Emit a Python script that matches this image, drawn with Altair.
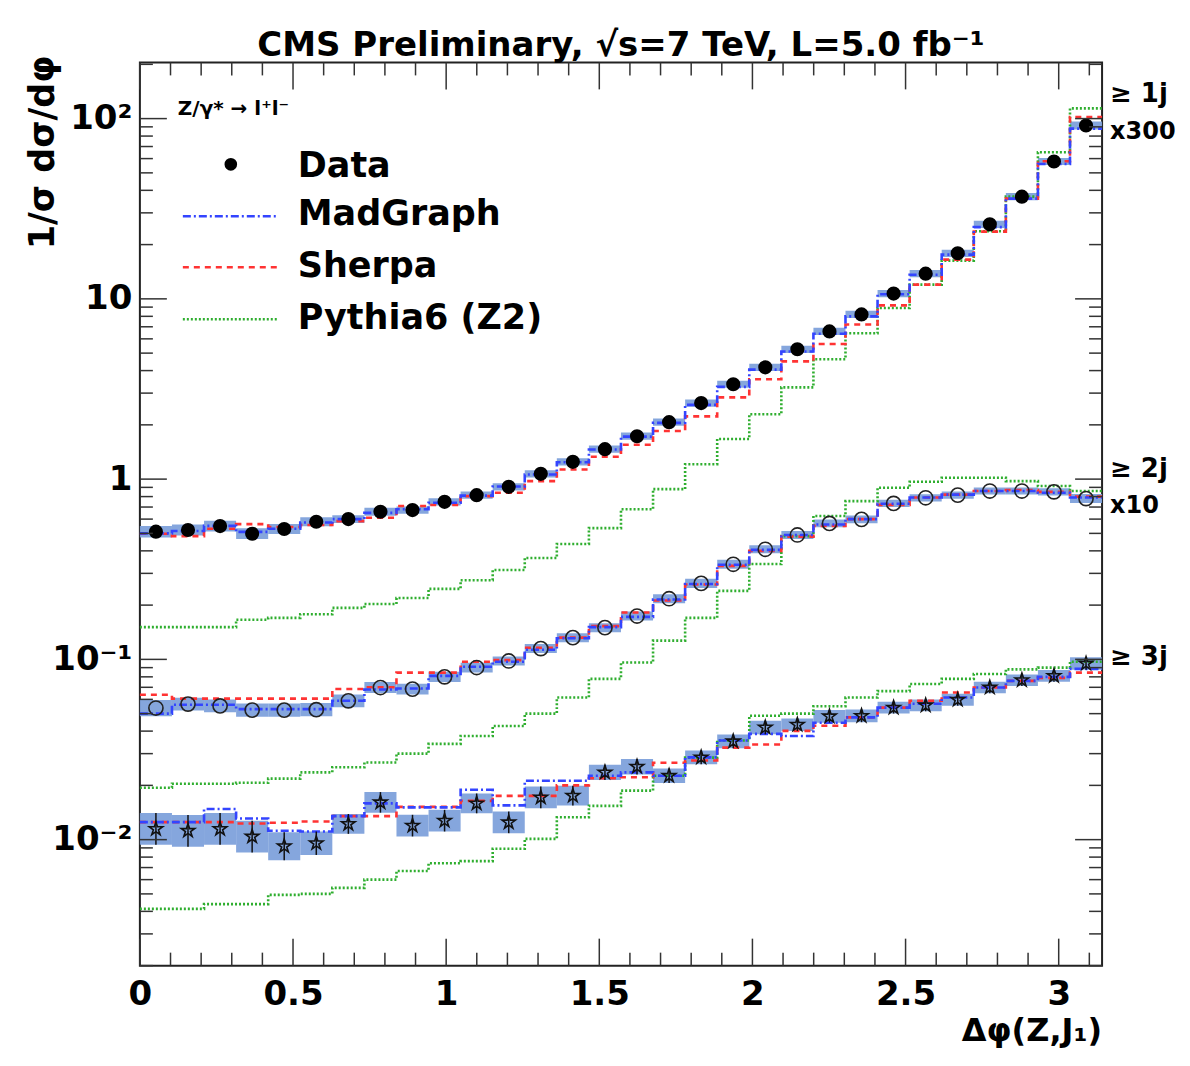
import altair as alt
import pandas as pd
import numpy as np

# ---------------- data ----------------
NBINS = 30
PHI_MAX = np.pi
edges = np.linspace(0, PHI_MAX, NBINS + 1)
centers = 0.5 * (edges[:-1] + edges[1:])

# >= 1 jet (x300)
data_1j = [0.511, 0.522, 0.549, 0.498, 0.529, 0.58, 0.60, 0.659, 0.673, 0.748,
           0.815, 0.906, 1.07, 1.247, 1.466, 1.73, 2.07, 2.64, 3.36, 4.17,
           5.25, 6.6, 8.2, 10.7, 13.8, 17.9, 25.9, 36.9, 57.8, 91.5]
err_1j = [0.032, 0.030, 0.030, 0.030, 0.028, 0.025, 0.022, 0.022, 0.020, 0.020,
          0.020, 0.020, 0.020, 0.020, 0.020, 0.020, 0.020, 0.020, 0.020, 0.020,
          0.020, 0.020, 0.020, 0.020, 0.020, 0.020, 0.020, 0.020, 0.020, 0.022]
mg_1j = [0.50, 0.515, 0.55, 0.51, 0.53, 0.575, 0.60, 0.65, 0.68, 0.74,
         0.81, 0.91, 1.06, 1.24, 1.46, 1.72, 2.05, 2.58, 3.25, 4.05,
         5.1, 6.4, 8.0, 10.6, 13.6, 17.6, 25.0, 36.0, 56.0, 88.0]
sh_1j = [0.498, 0.483, 0.53, 0.563, 0.542, 0.556, 0.585, 0.61, 0.71, 0.718,
         0.805, 0.84, 0.975, 1.13, 1.33, 1.55, 1.85, 2.23, 2.84, 3.58,
         4.5, 5.62, 7.2, 9.2, 12.0, 16.5, 23.6, 36.0, 58.0, 102.0]
py_1j = [0.151, 0.151, 0.151, 0.166, 0.17, 0.178, 0.193, 0.203, 0.219, 0.246,
         0.275, 0.313, 0.365, 0.437, 0.535, 0.68, 0.88, 1.21, 1.67, 2.29,
         3.23, 4.62, 6.44, 8.9, 12.0, 16.3, 23.7, 36.9, 65.0, 114.0]

# >= 2 jets (x10)
data_2j = [0.0537, 0.0565, 0.0552, 0.0523, 0.0523, 0.0526, 0.0589, 0.0698, 0.0684, 0.080,
           0.0901, 0.098, 0.1148, 0.132, 0.150, 0.174, 0.217, 0.264, 0.337, 0.408,
           0.49, 0.568, 0.598, 0.733, 0.788, 0.815, 0.859, 0.859, 0.85, 0.78]
err_2j = [0.045, 0.035, 0.035, 0.037, 0.037, 0.037, 0.035, 0.030, 0.030, 0.028,
          0.027, 0.025, 0.025, 0.025, 0.025, 0.025, 0.025, 0.025, 0.025, 0.022,
          0.022, 0.022, 0.022, 0.020, 0.020, 0.020, 0.020, 0.020, 0.020, 0.025]
mg_2j = [0.050, 0.056, 0.056, 0.053, 0.053, 0.053, 0.059, 0.068, 0.069, 0.081,
         0.091, 0.097, 0.113, 0.131, 0.151, 0.172, 0.215, 0.262, 0.335, 0.405,
         0.49, 0.56, 0.60, 0.73, 0.79, 0.82, 0.86, 0.86, 0.84, 0.79]
sh_2j = [0.0636, 0.0606, 0.0606, 0.0606, 0.0606, 0.0606, 0.0685, 0.070, 0.0844, 0.0844,
         0.097, 0.099, 0.116, 0.132, 0.153, 0.182, 0.212, 0.26, 0.33, 0.40,
         0.48, 0.55, 0.60, 0.72, 0.79, 0.82, 0.86, 0.87, 0.85, 0.80]
py_2j = [0.0194, 0.0204, 0.0204, 0.0207, 0.0218, 0.0236, 0.0252, 0.0268, 0.030, 0.034,
         0.0376, 0.0427, 0.050, 0.0614, 0.078, 0.096, 0.127, 0.170, 0.24, 0.338,
         0.483, 0.624, 0.755, 0.895, 0.966, 1.017, 1.017, 0.975, 0.915, 0.86]

# >= 3 jets
data_3j = [0.01146, 0.0112, 0.01146, 0.0104, 0.00919, 0.00955, 0.01222, 0.0161, 0.01196, 0.01274,
           0.01589, 0.01247, 0.01715, 0.01753, 0.0236, 0.0254, 0.0226, 0.0286, 0.0351, 0.0419,
           0.0434, 0.0483, 0.0486, 0.054, 0.0556, 0.0597, 0.0698, 0.0767, 0.081, 0.0948]
err_3j = [0.088, 0.088, 0.088, 0.088, 0.077, 0.065, 0.055, 0.057, 0.060, 0.060,
          0.055, 0.060, 0.060, 0.055, 0.042, 0.043, 0.040, 0.038, 0.038, 0.038,
          0.035, 0.035, 0.035, 0.033, 0.033, 0.033, 0.032, 0.032, 0.032, 0.035]
mg_3j = [0.0125, 0.0125, 0.0148, 0.0131, 0.0112, 0.0111, 0.0135, 0.0159, 0.0151, 0.0151,
         0.0189, 0.0155, 0.0212, 0.0212, 0.0226, 0.0236, 0.0226, 0.0286, 0.0355, 0.0386,
         0.0376, 0.0445, 0.0477, 0.054, 0.0567, 0.0614, 0.0698, 0.076, 0.080, 0.0886]
sh_3j = [0.0125, 0.0125, 0.0125, 0.0123, 0.0124, 0.0126, 0.0135, 0.0135, 0.0152, 0.0152,
         0.0164, 0.0175, 0.0175, 0.0200, 0.0219, 0.0222, 0.0267, 0.0275, 0.0324, 0.0337,
         0.0401, 0.0428, 0.0477, 0.054, 0.059, 0.0655, 0.0698, 0.076, 0.079, 0.0844]
py_3j = [0.00413, 0.00413, 0.00439, 0.00439, 0.00494, 0.0050, 0.0054, 0.0060, 0.0067, 0.0074,
         0.0076, 0.0089, 0.0101, 0.0133, 0.0154, 0.0187, 0.0226, 0.0285, 0.0355, 0.0487,
         0.050, 0.055, 0.0614, 0.0667, 0.073, 0.078, 0.083, 0.088, 0.090, 0.097]

x_major = [0, 0.5, 1, 1.5, 2, 2.5, 3]
y_major = [0.01, 0.1, 1, 10, 100]
legend_labels = ["Data", "MadGraph", "Sherpa", "Pythia6 (Z2)"]
jet_labels = ["≥ 1j", "x300", "≥ 2j", "x10", "≥ 3j"]

# ---------------- tables ----------------
groups = {
    "1j": (data_1j, err_1j, mg_1j, sh_1j, py_1j),
    "2j": (data_2j, err_2j, mg_2j, sh_2j, py_2j),
    "3j": (data_3j, err_3j, mg_3j, sh_3j, py_3j),
}

pts_rows, step_rows = [], []
for g, (d, e, mg, sh, py) in groups.items():
    for i in range(NBINS):
        f = 10 ** e[i]
        pts_rows.append(dict(grp=g, x=float(centers[i]), lo_x=float(edges[i]), hi_x=float(edges[i + 1]),
                             y=d[i], ylo=d[i] / f, yhi=d[i] * f))
    for gen, vals in (("MadGraph", mg), ("Sherpa", sh), ("Pythia", py)):
        for i in range(NBINS + 1):
            step_rows.append(dict(grp=g, gen=gen, x=float(edges[i]), y=vals[min(i, NBINS - 1)]))
pts = pd.DataFrame(pts_rows)
steps = pd.DataFrame(step_rows)

def sub(df, col, val):
    return df[df[col] == val].reset_index(drop=True)

xmin_ticks = [round(0.1 * k, 1) for k in range(32) if k % 5 != 0]
ymin_ticks = [m * 10.0 ** p for p in range(-3, 3) for m in range(2, 10)
              if 0.002 <= m * 10.0 ** p <= 205]

# ---------------- chart ----------------
W, H = 963, 904
FONT = "DejaVu Sans"
xs = alt.Scale(domain=[0, float(PHI_MAX)], nice=False, zero=False)
ys = alt.Scale(type="log", domain=[0.002, 205], nice=False)

BAND = "#7ea1db"
COL = {"MadGraph": "#3344ff", "Sherpa": "#ff3333", "Pythia": "#2fae2f"}
DASH = {"MadGraph": [8, 3, 2, 3], "Sherpa": [6, 5], "Pythia": [2, 2]}
STAR = ("M0,-1L0.2245,-0.309L0.951,-0.309L0.363,0.118L0.588,0.809L0,0.382"
        "L-0.588,0.809L-0.363,0.118L-0.951,-0.309L-0.2245,-0.309Z")

bands = alt.Chart(pts).mark_rect(color=BAND, opacity=0.95).encode(
    x=alt.X("lo_x:Q", scale=xs, axis=None), x2="hi_x:Q",
    y=alt.Y("ylo:Q", scale=ys, axis=None), y2="yhi:Q")

lines = []
for gen in ("Pythia", "Sherpa", "MadGraph"):
    lines.append(
        alt.Chart(sub(steps, "gen", gen)).mark_line(
            interpolate="step-after", stroke=COL[gen], strokeDash=DASH[gen],
            strokeWidth=2.6).encode(
            x=alt.X("x:Q", scale=xs, axis=None),
            y=alt.Y("y:Q", scale=ys, axis=None),
            detail="grp:N"))

ebars = alt.Chart(sub(pts, "grp", "3j")).mark_rule(color="#111", strokeWidth=1.5).encode(
    x=alt.X("x:Q", scale=xs, axis=None),
    y=alt.Y("ylo:Q", scale=ys, axis=None), y2="yhi:Q")

p1 = alt.Chart(sub(pts, "grp", "1j")).mark_point(
    shape="circle", filled=True, fill="black", size=200, opacity=1).encode(
    x=alt.X("x:Q", scale=xs, axis=alt.Axis(
        orient="bottom", values=x_major, labelExpr="'' + datum.value", title=None,
        ticks=False, tickSize=0, domain=False, grid=False, labelFont=FONT, labelFontSize=34,
        labelFontWeight="bold", labelColor="black", labelPadding=12, labelFlush=False,
        labelOverlap=False)),
    y=alt.Y("y:Q", scale=ys, axis=alt.Axis(
        orient="left", values=y_major,
        labelExpr="datum.value > 50 ? '10²' : datum.value > 5 ? '10' : datum.value > 0.5 ? '1' : datum.value > 0.05 ? '10⁻¹' : '10⁻²'",
        title=None, ticks=False, tickSize=0, domain=False, grid=False, labelFont=FONT,
        labelFontSize=34, labelFontWeight="bold", labelColor="black", labelPadding=8,
        labelFlush=False, labelOverlap=False)))
p2 = alt.Chart(sub(pts, "grp", "2j")).mark_point(
    shape="circle", filled=False, stroke="#222", strokeWidth=1.6, size=200, opacity=1).encode(
    x=alt.X("x:Q", scale=xs, axis=None), y=alt.Y("y:Q", scale=ys, axis=None))
p3 = alt.Chart(sub(pts, "grp", "3j")).mark_point(
    shape=STAR, filled=False, stroke="#111", strokeWidth=1.6, size=200, opacity=1).encode(
    x=alt.X("x:Q", scale=xs, axis=None), y=alt.Y("y:Q", scale=ys, axis=None))

# inward ticks (ROOT style) on all four sides
TK = dict(stroke="#333", strokeWidth=1.5)
def yticks(vals, length):
    df = pd.DataFrame({"v": vals})
    left = alt.Chart(df).mark_rule(**TK).encode(
        y=alt.Y("v:Q", scale=ys, axis=None), x=alt.value(0), x2=alt.value(length))
    right = alt.Chart(df).mark_rule(**TK).encode(
        y=alt.Y("v:Q", scale=ys, axis=None), x=alt.value(W), x2=alt.value(W - length))
    return [left, right]
def xticks(vals, length):
    df = pd.DataFrame({"v": vals})
    bot = alt.Chart(df).mark_rule(**TK).encode(
        x=alt.X("v:Q", scale=xs, axis=None), y=alt.value(H), y2=alt.value(H - length))
    top = alt.Chart(df).mark_rule(**TK).encode(
        x=alt.X("v:Q", scale=xs, axis=None), y=alt.value(0), y2=alt.value(length))
    return [bot, top]
tick_layers = yticks(y_major, 27) + yticks(ymin_ticks, 13) + xticks(x_major, 27) + xticks(xmin_ticks, 13)

def label(text, x, y, size, align="left", angle=0, baseline="middle", weight="bold"):
    return alt.Chart(pd.DataFrame({"t": [text]})).mark_text(
        font=FONT, fontWeight=weight, fontSize=size, align=align, baseline=baseline,
        angle=angle, fill="black").encode(x=alt.value(x), y=alt.value(y), text="t:N")

texts = [
    label("CMS Preliminary, √s=7 TeV, L=5.0 fb⁻¹", W / 2, -6, 34, align="center", baseline="alphabetic"),
    label("1/σ dσ/dφ", -97, 90, 35, align="center", angle=270),
    label("Δφ(Z,J₁)", W, 969, 32, align="right"),
    label("Z/γ* → l⁺l⁻", 38, 47, 20),
    label(legend_labels[0], 158, 104, 35),
    label(legend_labels[1], 158, 152, 35),
    label(legend_labels[2], 158, 204, 35),
    label(legend_labels[3], 158, 256, 35),
    label(jet_labels[0], 971, 32, 26),
    label(jet_labels[1], 971, 70, 24),
    label(jet_labels[2], 971, 407, 26),
    label(jet_labels[3], 971, 444, 24),
    label(jet_labels[4], 971, 595, 26),
]

dummy = pd.DataFrame({"k": [0]})
leg_dot = alt.Chart(dummy).mark_point(shape="circle", filled=True, fill="black", size=160, opacity=1).encode(
    x=alt.value(91), y=alt.value(102))
leg_lines = []
for gen, yy in (("MadGraph", 154), ("Sherpa", 205), ("Pythia", 257)):
    leg_lines.append(alt.Chart(dummy).mark_rule(stroke=COL[gen], strokeDash=DASH[gen], strokeWidth=2.6).encode(
        x=alt.value(43), x2=alt.value(138), y=alt.value(yy)))

chart = alt.layer(
    bands, *lines, ebars, p2, p3, p1, *tick_layers, *texts, leg_dot, *leg_lines
).resolve_axis(x="independent", y="independent").properties(
    width=W, height=H,
    autosize=alt.AutoSizeParams(type="none"),
    padding={"left": 132, "top": 54, "right": 80, "bottom": 95},
    background="white",
).configure_view(stroke="#222", strokeWidth=2)

chart.save("out.html", embed_options={"renderer": "svg", "actions": False})
